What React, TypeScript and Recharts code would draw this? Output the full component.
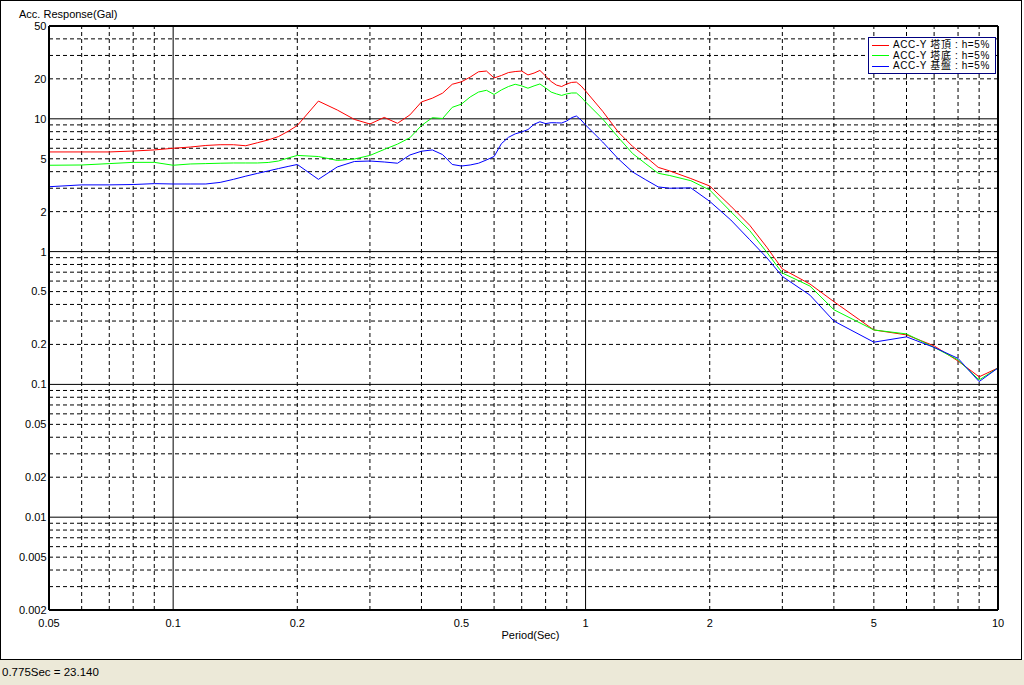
import React from 'react';
import { LineChart, Line, XAxis, YAxis, ReferenceLine, Legend, Label } from 'recharts';

const periods = [0.05, 0.06, 0.07, 0.08, 0.09, 0.1, 0.11, 0.12, 0.13, 0.14, 0.15, 0.16, 0.17, 0.18, 0.19, 0.2,
  0.225, 0.25, 0.275, 0.3, 0.325, 0.35, 0.375, 0.4, 0.425, 0.45, 0.475, 0.5, 0.525, 0.55, 0.575, 0.6,
  0.625, 0.65, 0.675, 0.7, 0.725, 0.75, 0.775, 0.8, 0.825, 0.85, 0.875, 0.9, 0.925, 0.95, 0.975, 1.0,
  1.1, 1.2, 1.3, 1.4, 1.5, 1.6, 1.8, 2.0, 2.25, 2.5, 2.75, 3.0, 3.5, 4.0, 5.0, 6.0, 7.0, 8.0, 9.0, 10.0];

const topValues = [5.63, 5.63, 5.63, 5.72, 5.83, 6.0, 6.13, 6.3, 6.38, 6.38, 6.27, 6.6, 6.93, 7.35, 8.05, 8.9,
  13.6, 11.65, 9.9, 9.14, 10.25, 9.25, 10.7, 13.4, 14.3, 15.6, 18.2, 19.0, 20.6, 22.6, 22.9, 20.3,
  21.2, 22.3, 22.7, 22.9, 21.4, 22.1, 23.14, 21.0, 19.1, 17.95, 17.5, 18.3, 18.8, 18.9, 17.7, 16.2,
  11.4, 7.96, 6.2, 5.17, 4.31, 4.05, 3.55, 3.12, 2.2, 1.58, 1.08, 0.74, 0.57, 0.42, 0.257, 0.236, 0.195, 0.15, 0.114, 0.133];

const bottomValues = [4.47, 4.49, 4.6, 4.7, 4.7, 4.47, 4.57, 4.6, 4.63, 4.65, 4.65, 4.65, 4.69, 4.81, 5.07, 5.3,
  5.2, 4.86, 4.98, 5.3, 5.88, 6.45, 7.2, 8.9, 10.2, 10.05, 12.2, 12.9, 14.6, 15.9, 16.4, 15.25,
  16.5, 17.5, 18.2, 17.7, 17.0, 17.7, 18.3, 17.1, 15.9, 15.4, 15.0, 15.4, 15.65, 15.65, 14.6, 13.4,
  9.97, 7.26, 5.48, 4.58, 3.89, 3.74, 3.42, 2.91, 2.0, 1.44, 0.99, 0.69, 0.55, 0.365, 0.257, 0.24, 0.19, 0.153, 0.108, 0.133];

const baseValues = [3.08, 3.18, 3.18, 3.2, 3.25, 3.23, 3.23, 3.23, 3.32, 3.5, 3.7, 3.88, 4.05, 4.22, 4.38, 4.53,
  3.5, 4.34, 4.77, 4.81, 4.73, 4.63, 5.34, 5.7, 5.83, 5.38, 4.53, 4.41, 4.49, 4.63, 4.9, 5.2,
  6.5, 7.25, 7.7, 7.96, 8.3, 9.1, 9.5, 9.2, 9.35, 9.33, 9.3, 9.63, 10.2, 10.5, 9.8, 8.98,
  6.69, 5.0, 3.98, 3.47, 3.07, 3.0, 3.02, 2.39, 1.73, 1.23, 0.9, 0.65, 0.47, 0.3, 0.208, 0.228, 0.19, 0.157, 0.105, 0.133];

const seriesNames = ['ACC-Y 塔頂 : h=5%', 'ACC-Y 塔底 : h=5%', 'ACC-Y 基盤 : h=5%'];
const seriesColors = ['#ff0000', '#00ff00', '#0000ff'];

const xTicks = [0.05, 0.1, 0.2, 0.5, 1, 2, 5, 10];
const yTicks = [0.002, 0.005, 0.01, 0.02, 0.05, 0.1, 0.2, 0.5, 1, 2, 5, 10, 20, 50];
const xMajor = [0.1, 1];
const xMinor = [0.06, 0.07, 0.08, 0.09, 0.2, 0.3, 0.4, 0.5, 0.6, 0.7, 0.8, 0.9, 2, 3, 4, 5, 6, 7, 8, 9];
const yMajor = [0.01, 0.1, 1, 10];
const yMinor = [0.003, 0.004, 0.005, 0.006, 0.007, 0.008, 0.009, 0.02, 0.03, 0.04, 0.05, 0.06, 0.07, 0.08, 0.09,
  0.2, 0.3, 0.4, 0.5, 0.6, 0.7, 0.8, 0.9, 2, 3, 4, 5, 6, 7, 8, 9, 20, 30, 40];
const xDomain = [0.05, 10];
const yDomain = [0.002, 50];

const yTitle = 'Acc. Response(Gal)';
const xTitle = 'Period(Sec)';
const statusText = '0.775Sec = 23.140';

const FONT = '"Liberation Sans", Arial, "Noto Sans CJK JP", sans-serif';

const data = periods.map((p, i) => ({
  period: p,
  top: topValues[i],
  bottom: bottomValues[i],
  base: baseValues[i],
}));

const seriesKeys = ['top', 'bottom', 'base'];

const renderLegend = () => {
  return (
    <div
      style={{
        border: '1px solid #000080',
        background: '#fff',
        width: 128,
        height: 37,
        boxSizing: 'border-box',
        padding: '2px 0 0 3px',
        fontFamily: FONT,
        fontSize: 10,
        letterSpacing: 0.6,
        color: '#000',
      }}
    >
      {seriesNames.map((name, i) => (
        <div key={i} style={{ display: 'flex', alignItems: 'center', height: 10.6, overflow: 'visible', whiteSpace: 'nowrap' }}>
          <div style={{ width: 17, height: 1, background: seriesColors[i], marginRight: 4, flex: 'none' }} />
          <span style={{ display: 'inline-block', height: 10.6, lineHeight: '10.6px', overflow: 'visible' }}>{name}</span>
        </div>
      ))}
    </div>
  );
};

export default function App() {
  const tickStyle = { fontSize: 11, fill: '#000', fontFamily: FONT };
  return (
    <div style={{ position: 'absolute', left: 0, top: 0, width: 1024, height: 685, background: '#ECE9D8', overflow: 'hidden' }}>
      <div style={{ position: 'absolute', left: 0, top: 0, width: 1024, height: 660, background: '#fff' }} />
      <div style={{ position: 'absolute', left: 0, top: 0 }}>
        <LineChart
          width={1024}
          height={660}
          data={data}
          margin={{ top: 26, right: 26, bottom: 0, left: 0 }}
          style={{ fontFamily: FONT }}
        >
          <XAxis
            dataKey="period"
            type="number"
            scale="log"
            domain={xDomain}
            ticks={xTicks}
            allowDataOverflow
            axisLine={false}
            tickLine={false}
            tickSize={0}
            tickMargin={9}
            height={50}
            tick={tickStyle}
            interval={0}
          >
            <Label value={xTitle} position="insideBottom" offset={21} dx={7} style={{ fontSize: 11, fill: '#000', fontFamily: FONT }} />
          </XAxis>
          <YAxis
            type="number"
            scale="log"
            domain={yDomain}
            ticks={yTicks}
            allowDataOverflow
            axisLine={false}
            tickLine={false}
            tickSize={0}
            tickMargin={2.5}
            width={49}
            tick={tickStyle}
            interval={0}
          >
            <Label
              content={(p: any) => {
                const vb = p.viewBox || { x: 0, y: 26 };
                return (
                  <text x={vb.x + 19} y={vb.y - 8} fontSize={11} fill="#000" fontFamily={FONT}>
                    {yTitle}
                  </text>
                );
              }}
            />
          </YAxis>

          {xMinor.map((v) => (
            <ReferenceLine key={'xm' + v} x={v} stroke="#000" strokeWidth={1} strokeDasharray="4 3" />
          ))}
          {yMinor.map((v) => (
            <ReferenceLine key={'ym' + v} y={v} stroke="#000" strokeWidth={1} strokeDasharray="4 3" />
          ))}
          {xMajor.map((v) => (
            <ReferenceLine key={'xM' + v} x={v} stroke="#000" strokeWidth={1} />
          ))}
          {yMajor.map((v) => (
            <ReferenceLine key={'yM' + v} y={v} stroke="#000" strokeWidth={1} />
          ))}

          {seriesKeys.map((k, i) => (
            <Line
              key={k}
              dataKey={k}
              name={seriesNames[i]}
              stroke={seriesColors[i]}
              strokeWidth={1}
              dot={false}
              activeDot={false}
              type="linear"
              isAnimationActive={false}
            />
          ))}

          <ReferenceLine x={xDomain[0]} stroke="#000" strokeWidth={2} />
          <ReferenceLine x={xDomain[1]} stroke="#000" strokeWidth={2} />
          <ReferenceLine y={yDomain[0]} stroke="#000" strokeWidth={2} />
          <ReferenceLine y={yDomain[1]} stroke="#000" strokeWidth={2} />

          <Legend
            layout="vertical"
            align="center"
            verticalAlign="middle"
            content={renderLegend}
            wrapperStyle={{ top: 37, left: 868, width: 128, height: 37 }}
          />
        </LineChart>
      </div>
      <div
        style={{
          position: 'absolute', left: 0, top: 0, width: 1022, height: 660,
          border: '1px solid #000', boxSizing: 'border-box', pointerEvents: 'none',
        }}
      />
      <div
        style={{
          position: 'absolute', left: 2, top: 660, height: 25, lineHeight: '25px',
          fontFamily: FONT, fontSize: 11.5, color: '#000', whiteSpace: 'nowrap',
        }}
      >
        {statusText}
      </div>
    </div>
  );
}
